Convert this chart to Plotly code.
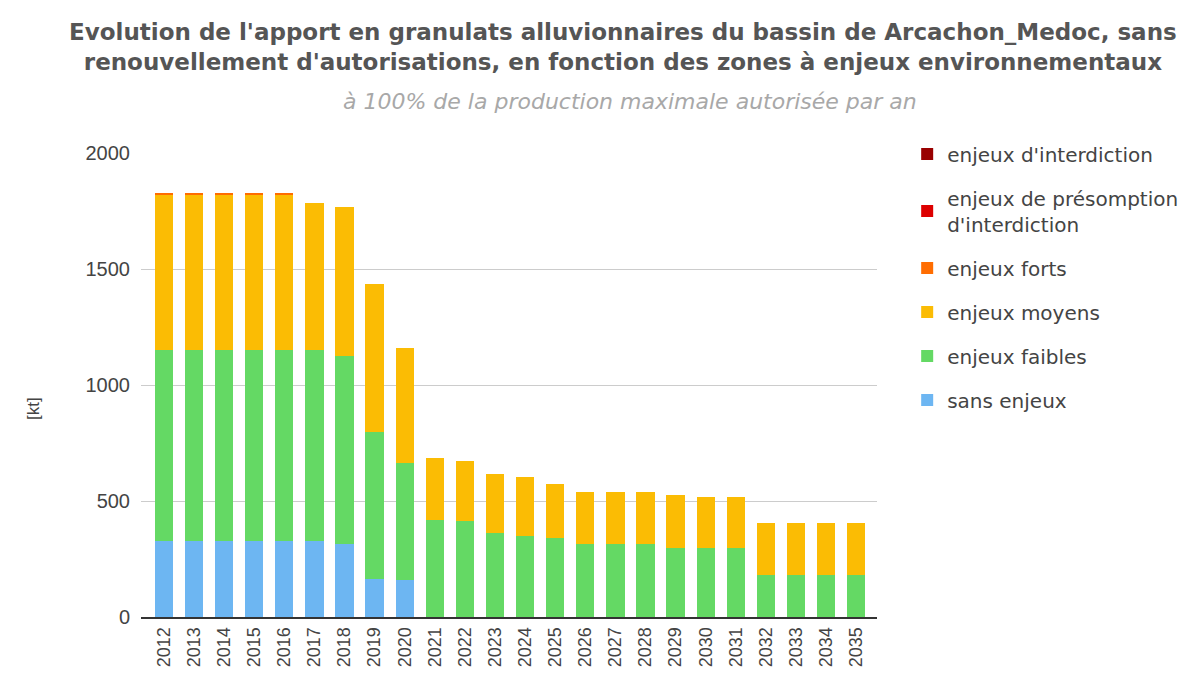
import plotly.graph_objects as go

years = [str(y) for y in range(2012, 2036)]

sans_enjeux = [326, 326, 326, 326, 326, 326, 315, 162, 160,
               0, 0, 0, 0, 0, 0, 0, 0, 0, 0, 0, 0, 0, 0, 0]
enjeux_faibles = [823, 823, 823, 823, 823, 823, 812, 636, 503,
                  417, 413, 362, 350, 339, 316, 316, 316, 296, 296, 296, 181, 181, 181, 181]
enjeux_moyens = [671, 671, 671, 671, 671, 636, 639, 638, 495,
                 269, 261, 253, 255, 233, 224, 224, 224, 231, 221, 221, 224, 224, 224, 224]
enjeux_forts = [4, 4, 4, 4, 4, 0, 0, 0, 0,
                0, 0, 0, 0, 0, 0, 0, 0, 0, 0, 0, 0, 0, 0, 0]
enjeux_presomption = [0] * 24
enjeux_interdiction = [0] * 24

series = [
    ("sans enjeux", sans_enjeux, "#6db6f2"),
    ("enjeux faibles", enjeux_faibles, "#64d964"),
    ("enjeux moyens", enjeux_moyens, "#fbbc04"),
    ("enjeux forts", enjeux_forts, "#ff6d01"),
    ("enjeux de présomption<br>d'interdiction", enjeux_presomption, "#dd0000"),
    ("enjeux d'interdiction", enjeux_interdiction, "#990000"),
]

FONT = "Liberation Sans, Arial, sans-serif"
WIDE = "DejaVu Sans, Verdana, sans-serif"

fig = go.Figure()
n = len(series)
for i, (name, vals, col) in enumerate(series):
    fig.add_trace(go.Bar(
        x=years, y=vals, name=name, marker_color=col,
        marker_line_width=0, legendrank=n - i, legendgroup=f"g{i}",
    ))

fig.update_layout(
    width=1201, height=683,
    barmode="stack", bargap=0.39,
    plot_bgcolor="white", paper_bgcolor="white",
    margin=dict(l=133, r=332, t=145, b=74, autoexpand=False),
    font=dict(family=FONT, color="#444444", size=19),
    title=dict(
        text="<b>Evolution de l'apport en granulats alluvionnaires du bassin de Arcachon_Medoc, sans<br>"
             "renouvellement d'autorisations, en fonction des zones à enjeux environnementaux</b>",
        x=0.512, xanchor="center", y=0.953, yanchor="top",
        font=dict(family=WIDE, size=23, color="#555555"),
    ),
    legend=dict(
        x=1.041, xanchor="left", y=1.04, yanchor="top",
        traceorder="grouped", tracegroupgap=15, itemsizing="constant",
        font=dict(family=WIDE, size=20, color="#444444"),
        bgcolor="rgba(0,0,0,0)",
    ),
    showlegend=True,
)

fig.add_annotation(
    text="<i>à 100% de la production maximale autorisée par an</i>",
    xref="paper", yref="paper", x=0.665, y=1.110, xanchor="center", yanchor="middle",
    showarrow=False, font=dict(family=WIDE, size=22, color="#a8a8a8"),
)
fig.add_annotation(
    text="[kt]", textangle=-90,
    xref="paper", yref="paper", x=-0.147, y=0.45, xanchor="center", yanchor="middle",
    showarrow=False, font=dict(family=FONT, size=17, color="#444444"),
)

fig.update_xaxes(
    type="category", range=[-0.76, 23.69],
    tickangle=-90, showgrid=False,
    showline=True, linecolor="#333333", linewidth=2,
    ticks="", ticklabelstandoff=1,
    tickfont=dict(family=FONT, size=18, color="#444444"),
)
fig.update_yaxes(
    range=[0, 2000], tickvals=[0, 500, 1000, 1500, 2000],
    showgrid=True, gridcolor="#cccccc", gridwidth=1,
    zeroline=False, ticks="", ticklabelstandoff=10,
    tickfont=dict(family=FONT, size=20, color="#444444"),
)

fig.write_html("out.html")
